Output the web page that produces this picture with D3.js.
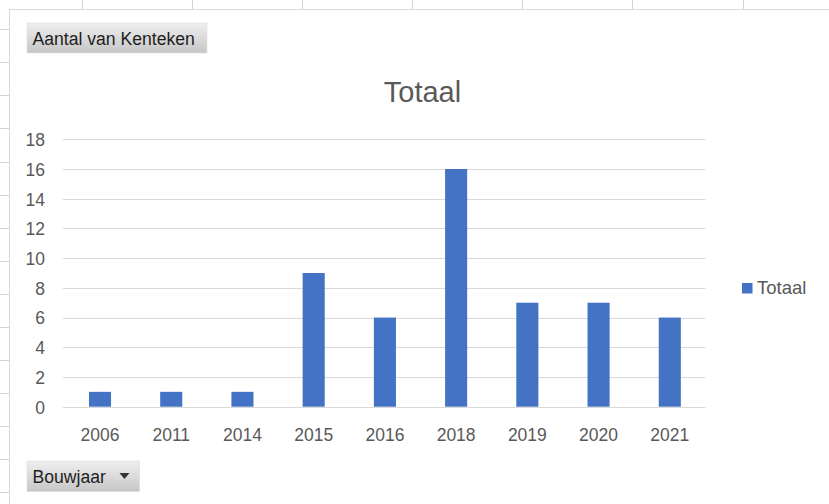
<!DOCTYPE html>
<html>
<head>
<meta charset="utf-8">
<script src="https://cdn.jsdelivr.net/npm/d3@7"></script>
<style>
  html, body { margin: 0; padding: 0; background: #fff; }
  svg { display: block; }
</style>
</head>
<body>
<script>
// ---- data ----
const categories = ["2006", "2011", "2014", "2015", "2016", "2018", "2019", "2020", "2021"];
const values = [1, 1, 1, 9, 6, 16, 7, 7, 6];
const yTicks = [0, 2, 4, 6, 8, 10, 12, 14, 16, 18];
const seriesName = "Totaal";
const chartTitle = "Totaal";
const valueFieldLabel = "Aantal van Kenteken";
const axisFieldLabel = "Bouwjaar";

const W = 829, H = 504;
const svg = d3.select("body").append("svg").attr("width", W).attr("height", H);

// spreadsheet background grid (outside chart object)
const colLines = [82, 192, 302, 412, 522, 632, 743];
svg.selectAll(".col").data(colLines).join("line")
  .attr("x1", d => d + 0.5).attr("x2", d => d + 0.5).attr("y1", 0).attr("y2", 9)
  .attr("stroke", "#d4d4d4");
const rowLines = d3.range(0, 15).map(i => 29.3 + i * 33.05);
svg.selectAll(".row").data(rowLines).join("line")
  .attr("x1", 0).attr("x2", 9).attr("y1", d => Math.round(d) + 0.5).attr("y2", d => Math.round(d) + 0.5)
  .attr("stroke", "#d4d4d4");

// chart area
svg.append("rect").attr("x", 9.5).attr("y", 9.5).attr("width", W).attr("height", H)
  .attr("fill", "#fff").attr("stroke", "#d9d9d9");

const font = "'Liberation Sans', Arial, sans-serif";
const textCol = "#595959";

// title
svg.append("text").attr("x", 422.5).attr("y", 101.5).attr("text-anchor", "middle")
  .attr("font-family", font).attr("font-size", 29).attr("fill", textCol).text(chartTitle);

// scales
const x = d3.scaleBand().domain(categories).range([64.4, 705.4]).paddingInner(0.69).paddingOuter(0.345);
const y = d3.scaleLinear().domain([0, 18]).range([406.7, 139.3]);

// gridlines
svg.append("g").selectAll("line").data(yTicks.filter(t => t > 0)).join("line")
  .attr("x1", 63).attr("x2", 705.5)
  .attr("y1", d => Math.round(y(d)) + 0.5).attr("y2", d => Math.round(y(d)) + 0.5)
  .attr("stroke", "#d9d9d9");

// bars
svg.append("g").selectAll("rect").data(values).join("rect")
  .attr("x", (d, i) => x(categories[i]))
  .attr("width", x.bandwidth())
  .attr("y", d => y(d))
  .attr("height", d => y(0) - y(d))
  .attr("fill", "#4472c4");

// x axis line
svg.append("line").attr("x1", 63).attr("x2", 705.5)
  .attr("y1", Math.round(y(0)) + 0.5).attr("y2", Math.round(y(0)) + 0.5)
  .attr("stroke", "#d9d9d9");

// y axis labels
const yAxis = d3.axisLeft(y).tickValues(yTicks).tickSize(0).tickPadding(0);
const gy = svg.append("g").attr("transform", "translate(45,0)").call(yAxis);
gy.select(".domain").remove();
gy.selectAll("text").attr("font-family", font).attr("font-size", 17.5).attr("fill", textCol)
  .attr("dy", "0.36em").attr("x", 0);

// x axis labels
const xAxis = d3.axisBottom(x).tickSize(0).tickPadding(0);
const gx = svg.append("g").attr("transform", "translate(0,441)").call(xAxis);
gx.select(".domain").remove();
gx.selectAll("text").attr("font-family", font).attr("font-size", 17.5).attr("fill", textCol)
  .attr("dy", 0).attr("y", 0);

// legend
const lg = svg.append("g");
lg.append("rect").attr("x", 742).attr("y", 283).attr("width", 10.5).attr("height", 10.5).attr("fill", "#4472c4");
lg.append("text").attr("x", 757).attr("y", 294).attr("font-family", font).attr("font-size", 18.5)
  .attr("fill", textCol).text(seriesName);

// pivot field buttons
const defs = svg.append("defs");
const grad = defs.append("linearGradient").attr("id", "btn").attr("x1", 0).attr("y1", 0).attr("x2", 0).attr("y2", 1);
grad.append("stop").attr("offset", "0%").attr("stop-color", "#efefef");
grad.append("stop").attr("offset", "100%").attr("stop-color", "#c6c6c6");

function button(bx, by, bw, bh, label, arrow) {
  const g = svg.append("g");
  g.append("rect").attr("x", bx).attr("y", by).attr("width", bw).attr("height", bh)
    .attr("fill", "url(#btn)").attr("stroke", "#dcdcdc").attr("stroke-width", 0.6);
  g.append("text").attr("x", bx + 5.5).attr("y", by + bh - 8.5)
    .attr("font-family", font).attr("font-size", 17.6).attr("fill", "#1e1e1e").text(label);
  if (arrow) {
    const ax = bx + bw - 20, ay = by + 12;
    g.append("path").attr("d", `M${ax},${ay} L${ax + 10},${ay} L${ax + 5},${ay + 6} Z`).attr("fill", "#333");
  }
}
button(27, 23, 180, 30, valueFieldLabel, false);
button(27, 461, 112.5, 30.5, axisFieldLabel, true);
</script>
</body>
</html>
